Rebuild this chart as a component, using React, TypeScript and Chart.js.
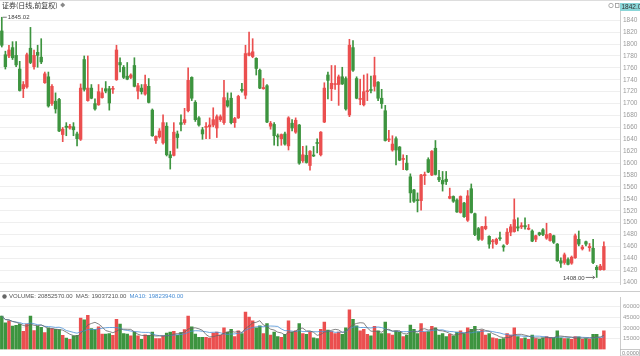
import React, { useEffect, useRef } from "react";
import { Chart, registerables } from "chart.js";

Chart.register(...registerables);

// ---------- data ----------
const OPEN = [
  1822, 1782, 1780, 1794, 1781, 1758, 1725, 1728, 1793, 1762, 1786, 1778, 1735, 1745, 1700, 1704, 1707, 1648, 1662, 1659,
  1661, 1649, 1640, 1774, 1705, 1726, 1700, 1698, 1710, 1725, 1725, 1724, 1740, 1769, 1761, 1746, 1744, 1764, 1721, 1726,
  1716, 1729, 1689, 1638, 1644, 1634, 1662, 1614, 1613, 1649, 1668, 1668, 1688, 1744, 1702, 1676, 1656, 1660, 1661, 1664,
  1659, 1673, 1668, 1705, 1709, 1668, 1676, 1724, 1714, 1781, 1779, 1776, 1756, 1725, 1730, 1662, 1665, 1646, 1641, 1649,
  1629, 1667, 1652, 1664, 1604, 1613, 1596, 1613, 1634, 1614, 1669, 1748, 1725, 1732, 1732, 1745, 1742, 1681, 1794, 1742,
  1707, 1698, 1720, 1723, 1729, 1736, 1709, 1688, 1639, 1622, 1641, 1627, 1606, 1600, 1577, 1555, 1538, 1537, 1579, 1606,
  1580, 1625, 1576, 1571, 1573, 1541, 1544, 1538, 1517, 1533, 1504, 1557, 1515, 1490, 1472, 1490, 1477, 1468, 1465, 1474,
  1461, 1465, 1484, 1485, 1493, 1493, 1495, 1489, 1486, 1472, 1483, 1488, 1474, 1470, 1478, 1464, 1436, 1433, 1438, 1432,
  1441, 1472, 1456, 1468, 1458, 1457, 1425, 1421, 1421,
];
const HIGH = [
  1845.02, 1788, 1798, 1804, 1804, 1771, 1737, 1785, 1828, 1790, 1798, 1809, 1753, 1753, 1732, 1718, 1709, 1660, 1668, 1665,
  1668, 1652, 1733, 1780, 1780, 1732, 1708, 1732, 1726, 1737, 1729, 1729, 1798, 1777, 1764, 1769, 1750, 1777, 1734, 1732,
  1748, 1742, 1691, 1646, 1658, 1681, 1668, 1620, 1668, 1654, 1681, 1692, 1760, 1745, 1705, 1678, 1660, 1668, 1676, 1693,
  1681, 1681, 1739, 1718, 1718, 1677, 1714, 1734, 1798, 1820, 1809, 1777, 1758, 1742, 1732, 1670, 1668, 1649, 1649, 1652,
  1678, 1673, 1676, 1665, 1628, 1629, 1621, 1628, 1641, 1653, 1735, 1753, 1764, 1764, 1748, 1761, 1745, 1808, 1806, 1745,
  1741, 1748, 1750, 1746, 1778, 1737, 1724, 1697, 1655, 1646, 1644, 1628, 1614, 1613, 1582, 1556, 1550, 1581, 1585, 1609,
  1621, 1638, 1588, 1586, 1586, 1558, 1545, 1540, 1545, 1534, 1554, 1565, 1516, 1492, 1494, 1510, 1478, 1472, 1474, 1484,
  1463, 1490, 1497, 1540, 1508, 1500, 1508, 1497, 1488, 1479, 1484, 1490, 1499, 1482, 1479, 1465, 1441, 1449, 1441, 1444,
  1481, 1486, 1462, 1469, 1465, 1472, 1428, 1430, 1468,
];
const LOW = [
  1795, 1758, 1777, 1774, 1762, 1721, 1710, 1726, 1767, 1758, 1761, 1767, 1734, 1694, 1697, 1684, 1653, 1636, 1646, 1657,
  1646, 1629, 1638, 1721, 1704, 1708, 1689, 1697, 1709, 1718, 1689, 1717, 1739, 1753, 1742, 1740, 1742, 1728, 1708, 1716,
  1714, 1701, 1645, 1633, 1642, 1632, 1612, 1590, 1612, 1625, 1654, 1665, 1686, 1705, 1670, 1662, 1640, 1641, 1641, 1661,
  1643, 1670, 1665, 1694, 1666, 1660, 1675, 1719, 1708, 1780, 1777, 1748, 1725, 1724, 1668, 1657, 1630, 1629, 1630, 1630,
  1622, 1654, 1650, 1598, 1601, 1600, 1588, 1611, 1617, 1612, 1668, 1708, 1705, 1724, 1697, 1732, 1689, 1678, 1754, 1708,
  1698, 1696, 1705, 1718, 1721, 1705, 1692, 1637, 1636, 1620, 1597, 1604, 1589, 1588, 1534, 1534, 1518, 1521, 1564, 1584,
  1579, 1580, 1569, 1553, 1564, 1540, 1534, 1517, 1516, 1509, 1502, 1516, 1478, 1470, 1470, 1488, 1457, 1457, 1463, 1470,
  1452, 1463, 1478, 1484, 1486, 1490, 1489, 1488, 1468, 1468, 1478, 1478, 1472, 1469, 1465, 1435, 1425, 1430, 1429, 1430,
  1440, 1461, 1454, 1461, 1452, 1431, 1408, 1420, 1420,
];
const CLOSE = [
  1798, 1762, 1790, 1777, 1765, 1722, 1732, 1782, 1769, 1781, 1781, 1770, 1750, 1696, 1729, 1691, 1654, 1657, 1660, 1662,
  1656, 1641, 1726, 1724, 1726, 1709, 1691, 1720, 1718, 1721, 1701, 1725, 1790, 1765, 1744, 1741, 1748, 1729, 1730, 1720,
  1732, 1702, 1646, 1645, 1654, 1668, 1614, 1609, 1652, 1643, 1665, 1673, 1739, 1709, 1673, 1664, 1649, 1661, 1664, 1673,
  1678, 1678, 1710, 1696, 1668, 1675, 1712, 1722, 1784, 1785, 1787, 1759, 1726, 1727, 1669, 1667, 1646, 1644, 1648, 1632,
  1676, 1659, 1672, 1600, 1614, 1601, 1620, 1612, 1633, 1652, 1726, 1739, 1734, 1733, 1745, 1733, 1691, 1798, 1756, 1709,
  1708, 1720, 1721, 1722, 1747, 1709, 1700, 1638, 1640, 1632, 1622, 1605, 1608, 1589, 1550, 1536, 1537, 1580, 1580, 1585,
  1620, 1581, 1572, 1565, 1569, 1544, 1536, 1518, 1544, 1510, 1545, 1517, 1480, 1472, 1493, 1494, 1464, 1469, 1472, 1473,
  1459, 1484, 1493, 1505, 1491, 1495, 1493, 1490, 1469, 1478, 1480, 1480, 1480, 1481, 1467, 1436, 1432, 1446, 1430, 1442,
  1478, 1464, 1459, 1464, 1460, 1433, 1421, 1427, 1460,
];
const VOLUME = [
  46300, 37000, 40000, 32600, 33700, 35200, 25200, 35200, 46300, 26300, 32600, 30700, 23300, 30000, 28900, 28100, 27800, 19600, 15900, 14100,
  18900, 19600, 43700, 41100, 47400, 28900, 27800, 31500, 21500, 21500, 22200, 19600, 41900, 35200, 22200, 21500, 18900, 24100, 18900, 14100,
  20400, 19600, 24100, 15200, 15200, 18900, 22600, 24100, 25200, 19600, 23300, 27800, 46300, 31500, 21500, 16700, 16700, 16700, 15900, 22600,
  24100, 20000, 30000, 24000, 28000, 18000, 26000, 22000, 52000, 45000, 40000, 30000, 33000, 22000, 36000, 20000, 24000, 18000, 17000, 21000,
  40000, 24000, 26000, 36000, 22000, 21000, 24000, 16000, 15000, 28000, 38000, 27000, 25000, 22000, 24000, 21000, 30000, 55000, 42000, 33000,
  26000, 28000, 21000, 19000, 32000, 26000, 22000, 38000, 22000, 20000, 26000, 24000, 18000, 20000, 34000, 28000, 22000, 36000, 24000, 25000,
  32000, 30000, 20000, 22000, 18000, 21000, 19000, 24000, 26000, 22000, 30000, 28000, 32000, 25000, 27000, 20000, 22000, 16000, 15000, 14000,
  15000, 22000, 20000, 30000, 18000, 15000, 16000, 14000, 20000, 15000, 14000, 16000, 18000, 17000, 16000, 26000, 16000, 15000, 15000, 14000,
  18000, 17500, 14000, 15000, 14500, 21000, 21000, 15500, 26000,
];
const PRICE_TICKS = [
  1400, 1420, 1440, 1460, 1480, 1500, 1520, 1540, 1560, 1580, 1600, 1620, 1640, 1660, 1680, 1700, 1720, 1740, 1760, 1780, 1800, 1820, 1840,
];
const VOLUME_TICKS = [15000, 30000, 45000, 60000];
const EMPTY_SLOTS = 4;
const TITLE = "证券(日线,前复权)";
const MAX_LABEL = "1845.02";
const MIN_LABEL = "1408.00";
const CROSS_LABEL = "1842.0";
const VOL_LEGEND = ["VOLUME: 20852570.00", "MA5: 19037210.00", "MA10: 19823940.00"];

// ---------- styles ----------
const RED = "#eb4f4f";
const GREEN = "#3d943f";
const FONT = "'Liberation Sans', Arial, sans-serif";
const CJK = "'Noto Sans CJK SC', 'Liberation Sans', sans-serif";
const W = 640;
const PRICE_H = 291;
const VOL_H = 65;
const AXIS_W = 20;

function movingAvg(values: number[], k: number) {
  return values.map((_, i) => {
    const s = Math.max(0, i - k + 1);
    let sum = 0;
    for (let j = s; j <= i; j++) sum += values[j];
    return sum / (i - s + 1);
  });
}

export default function App() {
  const priceRef = useRef<HTMLCanvasElement | null>(null);
  const volRef = useRef<HTMLCanvasElement | null>(null);

  useEffect(() => {
    const n = OPEN.length;
    const labels = Array.from({ length: n + EMPTY_SLOTS }, (_, i) => String(i + 1));
    const colors = OPEN.map((o, i) => (CLOSE[i] >= o ? RED : GREEN));

    const overlayPrice = {
      id: "overlayPrice",
      afterDraw(chart: any) {
        const ctx = chart.ctx;
        const xs = chart.scales.x;
        const ys = chart.scales.y;
        ctx.save();
        ctx.strokeStyle = "#dddddd";
        ctx.lineWidth = 1;
        ctx.beginPath();
        ctx.moveTo(0, 0.5);
        ctx.lineTo(W, 0.5);
        ctx.stroke();
        // title
        ctx.fillStyle = "#333";
        ctx.font = `7px ${CJK}`;
        ctx.textBaseline = "middle";
        ctx.textAlign = "left";
        ctx.fillText(TITLE, 2, 5);
        const tw = ctx.measureText(TITLE).width;
        ctx.fillStyle = "#888";
        ctx.beginPath();
        const dx = 2 + tw + 5;
        ctx.moveTo(dx, 2.5);
        ctx.lineTo(dx + 2.5, 5);
        ctx.lineTo(dx, 7.5);
        ctx.lineTo(dx - 2.5, 5);
        ctx.closePath();
        ctx.fill();
        // max marker
        const imax = HIGH.indexOf(Math.max(...HIGH));
        const mx = xs.getPixelForValue(imax);
        const my = ys.getPixelForValue(HIGH[imax]);
        ctx.strokeStyle = "#555";
        ctx.lineWidth = 0.8;
        ctx.beginPath();
        ctx.moveTo(mx + 1, my);
        ctx.lineTo(mx + 5, my);
        ctx.stroke();
        ctx.fillStyle = "#444";
        ctx.font = `6px ${FONT}`;
        ctx.fillText(MAX_LABEL, mx + 6, my + 0.5);
        // min marker
        const imin = LOW.indexOf(Math.min(...LOW));
        const nx = xs.getPixelForValue(imin);
        const ny = ys.getPixelForValue(LOW[imin]);
        ctx.beginPath();
        ctx.moveTo(nx - 11, ny);
        ctx.lineTo(nx - 2, ny);
        ctx.moveTo(nx - 4, ny - 1.5);
        ctx.lineTo(nx - 2, ny);
        ctx.lineTo(nx - 4, ny + 1.5);
        ctx.stroke();
        ctx.textAlign = "right";
        ctx.fillText(MIN_LABEL, nx - 12, ny + 0.5);
        // top-right icons
        ctx.strokeStyle = "#999";
        ctx.lineWidth = 0.8;
        ctx.beginPath();
        ctx.arc(611, 5.5, 2.2, 0, Math.PI * 2);
        ctx.stroke();
        ctx.strokeRect(615.5, 3.5, 3.5, 4);
        // crosshair price label
        ctx.fillStyle = "#8ad6d8";
        ctx.fillRect(620, 3, 20, 8);
        ctx.fillStyle = "#333";
        ctx.textAlign = "left";
        ctx.font = `6.5px ${FONT}`;
        ctx.fillText(CROSS_LABEL, 621.5, 7.3);
        ctx.restore();
      },
    };

    const priceChart = new Chart(priceRef.current as HTMLCanvasElement, {
      type: "bar",
      data: {
        labels,
        datasets: [
          {
            data: LOW.map((l, i) => [l, HIGH[i]]) as any,
            backgroundColor: colors,
            barThickness: 1,
            grouped: false,
            order: 2,
          } as any,
          {
            data: OPEN.map((o, i) => [o, CLOSE[i]]) as any,
            backgroundColor: colors,
            barThickness: 2.7,
            minBarLength: 1,
            grouped: false,
            order: 1,
          } as any,
        ],
      },
      options: {
        responsive: false,
        maintainAspectRatio: false,
        animation: false,
        layout: { padding: 0 },
        plugins: { legend: { display: false }, tooltip: { enabled: false } },
        scales: {
          x: { display: false, offset: true, grid: { display: false } },
          y: {
            position: "right",
            min: 1396.8,
            max: 1862.4,
            afterBuildTicks: (s: any) => {
              s.ticks = PRICE_TICKS.map((v) => ({ value: v }));
            },
            afterFit: (s: any) => {
              s.width = AXIS_W;
            },
            ticks: {
              font: { size: 6.5, family: FONT },
              color: "#9a9a9a",
              padding: 3,
              callback: (v: any) => String(v),
            },
            grid: { color: "#efefef", drawTicks: false },
            border: { color: "#cccccc" },
          },
        },
      },
      plugins: [overlayPrice],
    });

    const ma5 = movingAvg(VOLUME, 5);
    const ma10 = movingAvg(VOLUME, 10);

    const overlayVol = {
      id: "overlayVol",
      afterDraw(chart: any) {
        const ctx = chart.ctx;
        ctx.save();
        ctx.strokeStyle = "#cccccc";
        ctx.lineWidth = 1;
        ctx.beginPath();
        ctx.moveTo(0, 0.5);
        ctx.lineTo(W, 0.5);
        ctx.stroke();
        ctx.fillStyle = "#666";
        ctx.beginPath();
        ctx.arc(4.5, 5.5, 2.2, 0, Math.PI * 2);
        ctx.fill();
        ctx.font = `6px ${FONT}`;
        ctx.textBaseline = "middle";
        ctx.textAlign = "left";
        let x = 9;
        const cols = ["#555", "#555", "#4a8fd6"];
        VOL_LEGEND.forEach((t, i) => {
          ctx.fillStyle = cols[i];
          ctx.fillText(t, x, 5.8);
          x += ctx.measureText(t).width + 3;
        });
        ctx.strokeStyle = "#bbb";
        ctx.lineWidth = 0.8;
        ctx.strokeRect(620.5, 58.5, 19, 6.5);
        ctx.fillStyle = "#888";
        ctx.font = `5.5px ${FONT}`;
        ctx.fillText("0.0000", 622, 62);
        ctx.restore();
      },
    };

    const volChart = new Chart(volRef.current as HTMLCanvasElement, {
      type: "bar",
      data: {
        labels,
        datasets: [
          {
            type: "line",
            data: ma5,
            borderColor: "#666666",
            borderWidth: 0.8,
            pointRadius: 0,
            tension: 0,
            order: 0,
          } as any,
          {
            type: "line",
            data: ma10,
            borderColor: "#4a8fd6",
            borderWidth: 0.8,
            pointRadius: 0,
            tension: 0,
            order: 1,
          } as any,
          {
            type: "bar",
            data: VOLUME,
            backgroundColor: colors,
            barThickness: 2.8,
            order: 2,
          } as any,
        ],
      },
      options: {
        responsive: false,
        maintainAspectRatio: false,
        animation: false,
        layout: { padding: 0 },
        plugins: { legend: { display: false }, tooltip: { enabled: false } },
        scales: {
          x: { display: false, offset: true, grid: { display: false } },
          y: {
            position: "right",
            min: 0,
            max: 72222,
            afterBuildTicks: (s: any) => {
              s.ticks = VOLUME_TICKS.map((v) => ({ value: v }));
            },
            afterFit: (s: any) => {
              s.width = AXIS_W;
            },
            ticks: {
              font: { size: 6, family: FONT },
              color: "#9a9a9a",
              padding: 3,
              callback: (v: any) => String(v),
            },
            grid: { color: "#efefef", drawTicks: false },
            border: { color: "#cccccc" },
          },
        },
      },
      plugins: [overlayVol],
    });

    return () => {
      priceChart.destroy();
      volChart.destroy();
    };
  }, []);

  return (
    <div style={{ position: "absolute", left: 0, top: 0, width: W, height: PRICE_H + VOL_H, background: "#fff" }}>
      <canvas ref={priceRef} width={W} height={PRICE_H} style={{ display: "block", width: W, height: PRICE_H }} />
      <canvas ref={volRef} width={W} height={VOL_H} style={{ display: "block", width: W, height: VOL_H }} />
    </div>
  );
}
